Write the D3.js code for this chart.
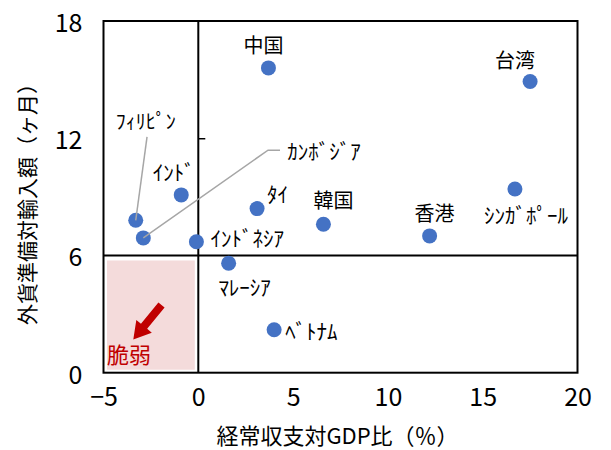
<!DOCTYPE html>
<html>
<head>
<meta charset="utf-8">
<script src="https://cdn.jsdelivr.net/npm/d3@7"></script>
<style>
  html, body { margin: 0; padding: 0; background: #fff; }
  svg { display: block; font-family: "Noto Sans CJK JP", "Noto Sans", sans-serif; }
</style>
</head>
<body>
<svg id="chart" width="611" height="450"></svg>
<script>
// Economies and their values
const labels = ["中国", "台湾", "ｼﾝｶﾞﾎﾟｰﾙ", "韓国", "香港", "ﾌｨﾘﾋﾟﾝ", "ｶﾝﾎﾞｼﾞｱ", "ｲﾝﾄﾞ", "ｲﾝﾄﾞﾈｼｱ", "ﾀｲ", "ﾏﾚｰｼｱ", "ﾍﾞﾄﾅﾑ"];
// current account balance, % of GDP
const currentAccount = [3.7, 17.5, 16.7, 6.6, 12.2, -3.3, -2.9, -0.9, -0.1, 3.1, 1.6, 4.0];
// foreign reserves, months of imports
const reserveMonths = [15.6, 14.9, 9.4, 7.6, 7.0, 7.8, 6.9, 9.1, 6.7, 8.4, 5.6, 2.2];

const xTicks = [-5, 0, 5, 10, 15, 20];
const yTicks = [0, 6, 12, 18];
const xTitle = "経常収支対GDP比（％）";
const yTitle = "外貨準備対輸入額（ヶ月）";
const zoneLabel = "脆弱";

// Label placement relative to each point (pixels)
const labelLayout = {
  "中国":      { dx: -5,  dy: -23, anchor: "middle", size: 20 },
  "台湾":      { dx: -15, dy: -22, anchor: "middle", size: 20 },
  "韓国":      { dx: 10,  dy: -25, anchor: "middle", size: 20 },
  "香港":      { dx: 5,   dy: -23, anchor: "middle", size: 20 },
  "ｼﾝｶﾞﾎﾟｰﾙ":  { dx: 11,  dy: 25,  anchor: "middle", size: 21 },
  "ﾌｨﾘﾋﾟﾝ":    { dx: -20, dy: -100, anchor: "start", size: 20, leader: [[11.3, -83.5]] },
  "ｶﾝﾎﾞｼﾞｱ":   { dx: 144, dy: -88, anchor: "start", size: 21, leader: [[124.7, -87.7], [136.7, -87.7]] },
  "ｲﾝﾄﾞ":      { dx: -7.5, dy: -24, anchor: "middle", size: 21 },
  "ｲﾝﾄﾞﾈｼｱ":   { dx: 14,  dy: -5,  anchor: "start", size: 21 },
  "ﾀｲ":        { dx: 20.5, dy: -16, anchor: "middle", size: 21 },
  "ﾏﾚｰｼｱ":     { dx: 16,  dy: 23,  anchor: "middle", size: 21 },
  "ﾍﾞﾄﾅﾑ":     { dx: 11,  dy: 0,   anchor: "start", size: 21 }
};

const svg = d3.select("#chart");
const plotLeft = 103.5, plotRight = 577.5, plotTop = 21, plotBottom = 372.7;

const x = d3.scaleLinear().domain([-5, 20]).range([plotLeft, plotRight]);
const y = d3.scaleLinear().domain([0, 18]).range([plotBottom, plotTop]);

const points = labels.map((name, i) => ({ name, cx: currentAccount[i], ry: reserveMonths[i] }));

// Vulnerable quadrant shading
const inset = 3.5;
svg.append("rect")
  .attr("x", x(-5) + inset)
  .attr("y", y(6) + inset + 1.5)
  .attr("width", x(0) - x(-5) - 2 * inset)
  .attr("height", y(0) - y(6) - 2 * inset - 1)
  .attr("fill", "#F4DBDB");

// Arrow pointing into the vulnerable corner
(function drawArrow() {
  const x0 = 161.5, y0 = 305, x1 = 133.3, y1 = 339.5;
  const dxv = x1 - x0, dyv = y1 - y0, len = Math.hypot(dxv, dyv);
  const ux = dxv / len, uy = dyv / len, px = -uy, py = ux;
  const shaftW = 4, headW = 10, headL = 17;
  const bx = x1 - ux * headL, by = y1 - uy * headL;
  const pts = [
    [x0 + px * shaftW, y0 + py * shaftW],
    [bx + px * shaftW, by + py * shaftW],
    [bx + px * headW, by + py * headW],
    [x1, y1],
    [bx - px * headW, by - py * headW],
    [bx - px * shaftW, by - py * shaftW],
    [x0 - px * shaftW, y0 - py * shaftW]
  ];
  svg.append("polygon")
    .attr("points", pts.map(p => p.join(",")).join(" "))
    .attr("fill", "#C00000");
})();

svg.append("text")
  .attr("x", x(-5) + 3.5)
  .attr("y", 363)
  .attr("font-size", 22)
  .attr("fill", "#C00000")
  .text(zoneLabel);

// Plot frame and quadrant dividers
svg.append("rect")
  .attr("x", plotLeft).attr("y", plotTop)
  .attr("width", plotRight - plotLeft).attr("height", plotBottom - plotTop)
  .attr("fill", "none").attr("stroke", "#000").attr("stroke-width", 2);

svg.append("line")
  .attr("x1", x(-5)).attr("x2", x(20))
  .attr("y1", y(6)).attr("y2", y(6))
  .attr("stroke", "#000").attr("stroke-width", 2);

// Vertical axis through x = 0 with outward tick marks
const yAxisMid = svg.append("g")
  .attr("transform", `translate(${x(0)},0)`)
  .call(d3.axisRight(y).tickValues([12]).tickSize(7).tickFormat(""));
yAxisMid.select(".domain").remove();
yAxisMid.selectAll(".tick line").attr("stroke", "#000").attr("stroke-width", 1.5);
svg.append("line")
  .attr("x1", x(0)).attr("x2", x(0))
  .attr("y1", y(18)).attr("y2", y(0))
  .attr("stroke", "#000").attr("stroke-width", 2);

// Tick labels
const yAxisLeft = svg.append("g")
  .attr("transform", `translate(${plotLeft},0)`)
  .call(d3.axisLeft(y).tickValues(yTicks).tickSize(0).tickPadding(21).tickFormat(d3.format("d")));
yAxisLeft.select(".domain").remove();
yAxisLeft.selectAll("text")
  .attr("font-size", 25).attr("fill", "#000")
  .attr("font-family", "'Noto Sans CJK JP', sans-serif")
  .attr("dy", "0.42em");

const xAxis = svg.append("g")
  .attr("transform", `translate(0,${plotBottom})`)
  .call(d3.axisBottom(x).tickValues(xTicks).tickSize(0).tickPadding(16).tickFormat(d3.format("d")));
xAxis.select(".domain").remove();
xAxis.selectAll("text")
  .attr("font-size", 25).attr("fill", "#000")
  .attr("font-family", "'Noto Sans CJK JP', sans-serif");

// Axis titles
svg.append("text")
  .attr("x", (plotLeft + plotRight) / 2 - 3)
  .attr("y", 444)
  .attr("text-anchor", "middle")
  .attr("font-size", 22)
  .attr("fill", "#000")
  .text(xTitle);

svg.append("text")
  .attr("transform", `translate(35,199) rotate(-90)`)
  .attr("text-anchor", "middle")
  .attr("font-size", 21)
  .attr("fill", "#000")
  .text(yTitle);

// Markers
svg.append("g").selectAll("circle")
  .data(points).join("circle")
  .attr("cx", d => x(d.cx))
  .attr("cy", d => y(d.ry))
  .attr("r", 7.5)
  .attr("fill", "#4472C4");

// Leader lines for crowded labels
const lineGen = d3.line();
svg.append("g").selectAll("path")
  .data(points.filter(d => labelLayout[d.name].leader)).join("path")
  .attr("d", d => {
    const px = x(d.cx), py = y(d.ry);
    const pts = [[px, py]].concat(labelLayout[d.name].leader.map(([a, b]) => [px + a, py + b]));
    return lineGen(pts);
  })
  .attr("fill", "none")
  .attr("stroke", "#A6A6A6")
  .attr("stroke-width", 1.5);

// Point labels
svg.append("g").selectAll("text")
  .data(points).join("text")
  .attr("x", d => x(d.cx) + labelLayout[d.name].dx)
  .attr("y", d => y(d.ry) + labelLayout[d.name].dy)
  .attr("text-anchor", d => labelLayout[d.name].anchor)
  .attr("dominant-baseline", "central")
  .attr("font-size", d => labelLayout[d.name].size)
  .attr("fill", "#000")
  .text(d => d.name);
</script>
</body>
</html>
